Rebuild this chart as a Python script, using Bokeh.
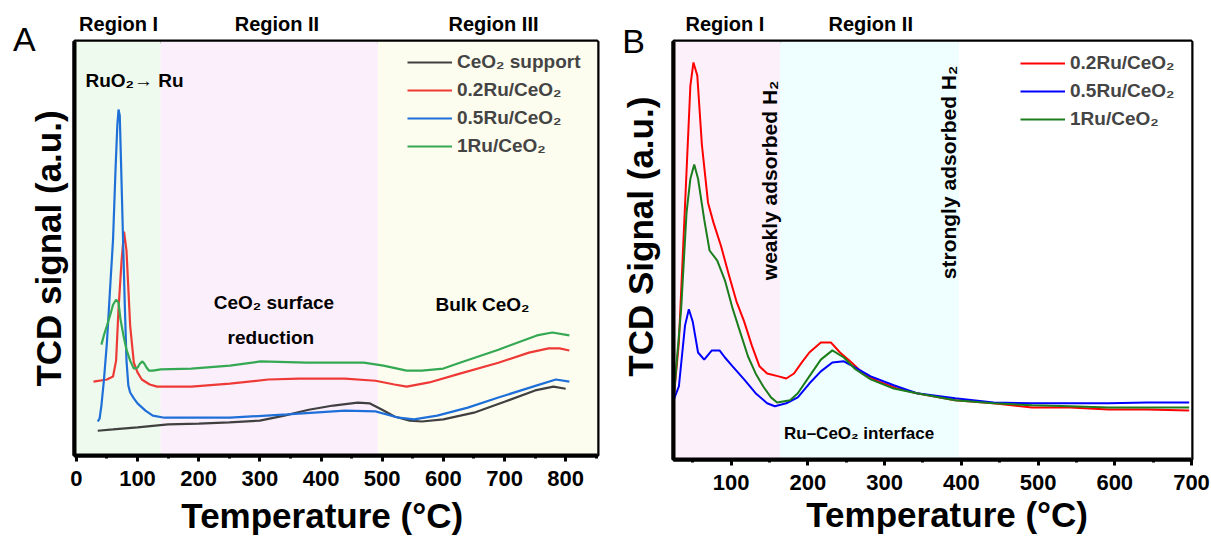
import math
from bokeh.plotting import figure
from bokeh.layouts import row
from bokeh.models import BoxAnnotation, Label, LinearAxis, SingleIntervalTicker, FixedTicker
from bokeh.embed import file_html
from bokeh.resources import INLINE

FONT = "Liberation Sans"

# ---------------- Panel A data (temperature in °C, TCD signal in a.u.) ----------------
A_ceo2_T = [35, 60, 100, 150, 200, 250, 300, 340, 380, 420, 460, 480, 500, 520, 545, 565, 600, 650, 700, 750, 780, 800]
A_ceo2_S = [7.1, 7.4, 7.9, 8.6, 8.8, 9.1, 9.5, 10.7, 12.1, 13.1, 13.8, 13.6, 12.1, 10.5, 9.5, 9.3, 9.8, 11.4, 14.0, 16.7, 17.6, 17.1]

A_02_T = [28, 50, 60, 65, 69, 74, 78, 82, 88, 94, 100, 107, 120, 132, 188, 251, 314, 364, 439, 489, 520, 540, 577, 627, 690, 740, 772, 790, 806]
A_02_S = [18.8, 19.3, 20.0, 23.8, 36.2, 47.6, 54.5, 50.0, 32.1, 23.3, 21.0, 19.3, 18.1, 17.6, 17.6, 18.3, 19.3, 19.5, 19.5, 19.0, 18.1, 17.6, 18.6, 20.7, 23.3, 25.7, 26.7, 26.7, 26.2]

A_05_T = [35, 38, 41, 45, 50, 55, 60, 64, 67, 69, 71, 73, 76, 79, 82, 85, 88, 94, 100, 113, 125, 144, 200, 251, 345, 439, 489, 527, 552, 590, 640, 690, 753, 784, 806]
A_05_S = [9.3, 10.0, 13.1, 19.0, 28.1, 40.5, 52.6, 69.0, 79.8, 83.6, 82.1, 71.4, 54.8, 38.1, 23.8, 17.9, 16.2, 14.8, 13.6, 11.9, 10.7, 10.2, 10.2, 10.2, 11.0, 11.9, 11.7, 10.2, 9.8, 10.7, 12.6, 15.0, 17.9, 19.3, 18.8]

A_1_T = [41, 45, 50, 55, 60, 65, 69, 72, 77, 82, 88, 94, 100, 104, 108, 111, 115, 119, 125, 138, 188, 251, 301, 376, 470, 502, 540, 565, 600, 627, 690, 753, 778, 806]
A_1_S = [27.6, 29.8, 32.1, 34.5, 37.1, 38.3, 37.6, 33.8, 29.8, 26.4, 23.8, 21.9, 22.1, 23.1, 23.6, 23.1, 22.1, 21.4, 21.4, 21.7, 21.9, 22.6, 23.6, 23.3, 23.3, 22.6, 21.4, 21.4, 21.9, 23.3, 26.4, 29.8, 30.5, 29.8]

A_labels = ["CeO\u2082 support", "0.2Ru/CeO\u2082", "0.5Ru/CeO\u2082", "1Ru/CeO\u2082"]
A_colors = ["#404040", "#ee3a36", "#1f6fd8", "#34a853"]
A_region_edges = [138, 493]
A_region_names = ["Region I", "Region II", "Region III"]
A_region_x = [69, 328, 682]
A_region_fill = ["#eefaee", "#fcefFC", "#fdfdef"]

# ---------------- Panel B data ----------------
B_T = [25, 32, 40, 47, 51, 56, 62, 70, 77, 87, 97, 107, 117, 127, 137, 147, 162, 172, 182, 192, 202, 217, 230, 242, 257, 272, 292, 317, 342, 392, 442, 492, 542, 592, 642, 697]
B_02_S = [14.3, 28.1, 60.7, 89.3, 94.8, 91.7, 75.2, 61.4, 56.7, 51.0, 44.3, 37.9, 33.1, 27.4, 22.4, 20.7, 20.0, 19.5, 20.7, 23.3, 25.7, 28.1, 28.1, 25.7, 23.3, 20.7, 18.8, 17.1, 16.0, 14.3, 13.6, 12.6, 12.6, 12.1, 12.1, 11.9]

B_1_T = [25, 35, 42, 47, 52, 57, 65, 72, 82, 92, 102, 112, 122, 132, 142, 152, 160, 177, 187, 202, 217, 232, 247, 262, 282, 312, 342, 392, 442, 492, 542, 592, 642, 697]
B_1_S = [14.3, 36.2, 59.0, 67.1, 70.5, 67.1, 57.4, 50.0, 47.6, 42.9, 36.2, 30.5, 24.8, 20.7, 17.6, 15.0, 13.8, 14.3, 16.0, 20.0, 24.0, 26.2, 24.5, 21.7, 19.3, 17.1, 16.0, 14.3, 13.6, 13.1, 12.9, 12.6, 12.6, 12.6]

B_05_T = [25, 32, 40, 45, 50, 57, 65, 75, 85, 92, 102, 117, 132, 147, 157, 172, 187, 202, 217, 232, 247, 262, 282, 312, 342, 392, 442, 492, 542, 592, 642, 697]
B_05_S = [14.3, 17.6, 32.1, 36.0, 33.1, 25.7, 24.0, 26.2, 26.2, 24.5, 22.4, 19.3, 16.0, 13.6, 12.9, 13.6, 15.0, 18.3, 21.2, 23.3, 23.6, 22.1, 20.0, 17.9, 16.0, 14.8, 13.8, 13.6, 13.6, 13.6, 13.8, 13.8]

B_labels = ["0.2Ru/CeO\u2082", "0.5Ru/CeO\u2082", "1Ru/CeO\u2082"]
B_colors = ["#ff0000", "#0000ff", "#1b7d1b"]
B_region_edges = [164, 397]
B_region_names = ["Region I", "Region II"]
B_region_x = [92, 282]
B_region_fill = ["#fcf0fb", "#effefe"]

X_TITLE = "Temperature (\u00b0C)"


def base_fig(xr, yr, fw, fh, left, right):
    p = figure(x_range=xr, y_range=yr, frame_width=fw, frame_height=fh,
               min_border_left=left, min_border_right=right, min_border_top=41,
               min_border_bottom=81, output_backend="svg", toolbar_location=None)
    p.grid.visible = False
    p.outline_line_color = "black"
    p.outline_line_width = 4
    p.outline_line_alpha = 1
    p.background_fill_color = "white"
    p.border_fill_color = "white"
    xa = p.xaxis[0]
    xa.ticker = SingleIntervalTicker(interval=100, num_minor_ticks=2)
    xa.axis_line_width = 4
    xa.major_tick_line_width = 3
    xa.major_tick_out = 6
    xa.major_tick_in = 0
    xa.minor_tick_line_width = 3
    xa.minor_tick_out = 3
    xa.minor_tick_in = 0
    xa.major_label_text_font = FONT
    xa.major_label_text_font_style = "bold"
    xa.major_label_text_font_size = "22px"
    xa.major_label_text_color = "black"
    xa.major_label_standoff = 9
    ya = p.yaxis[0]
    ya.ticker = FixedTicker(ticks=[])
    ya.axis_line_width = 4
    ya.major_tick_line_color = None
    ya.minor_tick_line_color = None
    return p


def set_ylabel(p, text, standoff):
    ya = p.yaxis[0]
    ya.axis_label = text
    ya.axis_label_text_font = FONT
    ya.axis_label_text_font_style = "bold"
    ya.axis_label_text_font_size = "35px"
    ya.axis_label_text_color = "black"
    ya.axis_label_standoff = standoff


def add_region_axis(p, xs, names):
    ax = LinearAxis(ticker=FixedTicker(ticks=list(xs)),
                    major_label_overrides={x: n for x, n in zip(xs, names)},
                    axis_line_color=None, major_tick_line_color=None, minor_tick_line_color=None,
                    major_tick_out=0, major_tick_in=0, major_label_standoff=7,
                    major_label_text_font=FONT, major_label_text_font_style="bold",
                    major_label_text_font_size="20px", major_label_text_color="black")
    p.add_layout(ax, "above")


def add_regions(p, edges, fills):
    bounds = [None] + list(edges) + [None]
    for i, c in enumerate(fills):
        p.add_layout(BoxAnnotation(left=bounds[i], right=bounds[i + 1], fill_color=c,
                                   fill_alpha=1, line_alpha=0, level="underlay"))


def add_text(p, x, y, t, size, align="center", style="bold", angle=0.0, place="center"):
    p.add_layout(Label(x=x, y=y, text=t, text_font=FONT, text_font_style=style,
                       text_font_size=size, text_align=align, text_baseline="middle",
                       text_color="black", angle=angle), place)


def style_legend(p, loc):
    lg = p.legend[0]
    lg.location = loc
    lg.label_text_font = FONT
    lg.label_text_font_style = "bold"
    lg.label_text_font_size = "19px"
    lg.label_height = 28
    lg.glyph_height = 28
    lg.glyph_width = 45
    lg.label_standoff = 5
    lg.spacing = 0
    lg.padding = 0
    lg.margin = 0
    lg.border_line_alpha = 0
    lg.background_fill_alpha = 0


# ---------------- Panel A ----------------
pA = base_fig((-3, 852), (1.2, 99.8), 523, 414, 74, 8)
set_ylabel(pA, "TCD signal (a.u.)", 7)
add_regions(pA, A_region_edges, A_region_fill)
for xs, ys, c, lab in zip([A_ceo2_T, A_02_T, A_05_T, A_1_T], [A_ceo2_S, A_02_S, A_05_S, A_1_S], A_colors, A_labels):
    pA.line(xs, ys, line_color=c, line_width=2.2, legend_label=lab)
style_legend(pA, (333, 295))
add_region_axis(pA, A_region_x, A_region_names)
add_text(pA, 15, 90.5, "RuO\u2082\u2192 Ru", "19px", align="left")
add_text(pA, 323, 37.6, "CeO\u2082 surface", "19px")
add_text(pA, 318, 29.3, "reduction", "19px")
add_text(pA, 664, 37.1, "Bulk CeO\u2082", "19px")
add_text(pA, -85, 100.5, "A", "34px", style="normal", place="left")
add_text(pA, 402, -13.0, X_TITLE, "35px", place="below")

# ---------------- Panel B ----------------
pB = base_fig((25, 700), (0.2, 99.8), 518, 418, 68, 20)
add_regions(pB, B_region_edges, B_region_fill + ["#ffffff"])
for xs, ys, c, lab in zip([B_T, B_05_T, B_1_T], [B_02_S, B_05_S, B_1_S], B_colors, B_labels):
    pB.line(xs, ys, line_color=c, line_width=2, legend_label=lab)
style_legend(pB, (347, 326))
add_region_axis(pB, B_region_x, B_region_names)
add_text(pB, 149.5, 66.7, "weakly adsorbed H\u2082", "21px", angle=math.pi / 2)
add_text(pB, 383, 68.6, "strongly adsorbed H\u2082", "21px", angle=math.pi / 2)
add_text(pB, 169, 6.4, "Ru\u2013CeO\u2082 interface", "17px", align="left")
add_text(pB, -27, 100.0, "B", "34px", style="normal", place="left")
add_text(pB, -18, 53.3, "TCD Signal (a.u.)", "35px", angle=math.pi / 2, place="left")
add_text(pB, 381.6, -13.0, X_TITLE, "35px", place="below")

layout = row(pA, pB)
open("out.html", "w").write(file_html(layout, INLINE))
